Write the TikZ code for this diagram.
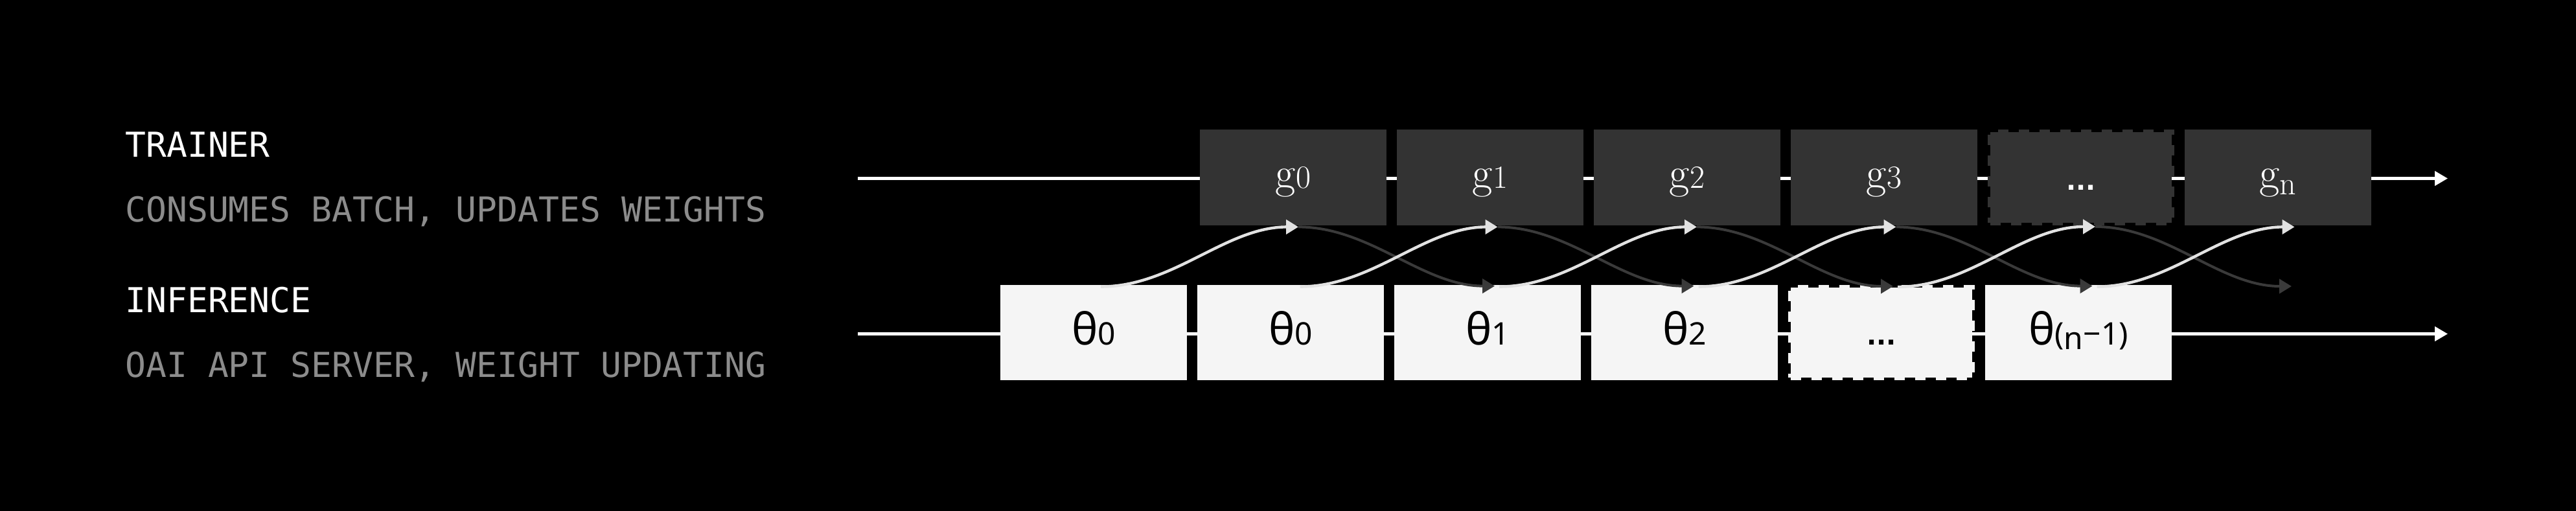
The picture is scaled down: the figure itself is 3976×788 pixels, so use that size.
\documentclass[tikz,border=0pt]{standalone}
\usepackage{fontspec}
\usetikzlibrary{arrows.meta}
\newfontfamily\lblmono{DejaVu Sans Mono}
\newfontfamily\thfont{Noto Sans}
\newfontfamily\dotsans{DejaVu Sans}
\definecolor{boxdark}{HTML}{333333}
\definecolor{boxlight}{HTML}{F5F5F5}
\definecolor{curvelight}{HTML}{E2E2E2}
\definecolor{curvedark}{HTML}{3A3A3A}
\definecolor{subgray}{HTML}{8C8C8C}
\newcommand{\glab}[1]{{\fontsize{34pt}{38pt}\selectfont g}{\fontsize{25pt}{29pt}\selectfont #1}}
\newcommand{\gnlab}{{\fontsize{34pt}{38pt}\selectfont g}\raisebox{-5pt}{\fontsize{25pt}{29pt}\selectfont n}}
\newcommand{\thlab}[1]{{\thfont\fontsize{34pt}{40pt}\selectfont θ}{\thfont\fontsize{24pt}{28pt}\selectfont #1}}
\newcommand{\thnlab}{{\thfont\fontsize{34pt}{40pt}\selectfont θ}{\thfont\fontsize{24pt}{28pt}\selectfont (\raisebox{-3.5pt}{n}−1)}}
\newcommand{\dotslab}{{\dotsans\bfseries\fontsize{20pt}{24pt}\selectfont ...}}
\tikzset{
  tbox/.style={fill=boxdark, minimum width=144pt, minimum height=74pt, inner sep=0pt,
    text=white, text height=22pt, text depth=6pt},
  bbox/.style={fill=boxlight, minimum width=144pt, minimum height=73.5pt, inner sep=0pt,
    text=black, text height=24.5pt, text depth=6pt},
  tdash/.style={tbox, draw=boxdark, line width=4pt, dash pattern=on 8pt off 8pt,
    minimum width=140pt, minimum height=70pt, text height=25pt, text depth=6pt},
  bdash/.style={bbox, draw=boxlight, line width=4pt, dash pattern=on 8pt off 8pt,
    minimum width=140pt, minimum height=69.5pt, text height=25pt, text depth=6pt},
  tline/.style={draw=white, line width=2.2pt, -{Triangle[length=10pt,width=11pt]}},
  lcurve/.style={draw=curvelight, line width=2.2pt, -{Triangle[length=9.5pt,width=11pt]}},
  dcurve/.style={draw=curvedark, line width=2pt, -{Triangle[length=9.5pt,width=11pt]}},
  lbl/.style={inner sep=0pt, anchor=base west, font=\lblmono\fontsize{26.5pt}{30pt}\selectfont},
}
\begin{document}
\begin{tikzpicture}[x=0.5pt,y=-0.5pt]
\useasboundingbox (0,0) rectangle (3976,788);
\fill[black] (-4,-4) rectangle (3980,792);

% left labels
\node[lbl, text=white] (trainer) at (193,242) {TRAINER};
\node[lbl, text=subgray] (trainersub) at (193,342) {CONSUMES BATCH, UPDATES WEIGHTS};
\node[lbl, text=white] (inference) at (193,482) {INFERENCE};
\node[lbl, text=subgray] (inferencesub) at (193,582) {OAI API SERVER, WEIGHT UPDATING};

% timelines
\coordinate (ta) at (1324,275.5);
\coordinate (tb) at (3778,275.5);
\coordinate (ia) at (1324,515.5);
\coordinate (ib) at (3778,515.5);
\draw[tline] (ta) -- (tb);
\draw[tline] (ia) -- (ib);

% trainer boxes
\node[tbox] (t0) at (1996,274) {\glab{0}};
\node[tbox] (t1) at (2300,274) {\glab{1}};
\node[tbox] (t2) at (2604,274) {\glab{2}};
\node[tbox] (t3) at (2908,274) {\glab{3}};
\node[tdash] (t4) at (3212,274) {\dotslab};
\node[tbox] (t5) at (3516,274) {\gnlab};

% inference boxes
\node[bbox] (b0) at (1688,513.5) {\thlab{0}};
\node[bbox] (b1) at (1992,513.5) {\thlab{0}};
\node[bbox] (b2) at (2296,513.5) {\thlab{1}};
\node[bbox] (b3) at (2600,513.5) {\thlab{2}};
\node[bdash] (b4) at (2904,513.5) {\dotslab};
\node[bbox] (b5) at (3208,513.5) {\thnlab};
\coordinate (b6n) at (3512,440);

% weight updates: trainer -> inference (dark)
\foreach \k/\e in {0/b2.north,1/b3.north,2/b4.north,3/b5.north,4/b6n} {
  \pgfmathsetmacro\sa{11+3.5*\k}
  \pgfmathsetmacro\sb{8+3.5*\k}
  \draw[dcurve] ([shift={(\sb,2)}]t\k.south) to[out=0,in=180,looseness=0.9] ([shift={(\sa,2)}]\e);
}
% rollouts: inference -> trainer (light)
\foreach \k in {0,...,5} {
  \pgfmathsetmacro\sa{11+3.5*\k}
  \pgfmathsetmacro\sb{8+3.5*\k}
  \draw[lcurve] ([shift={(\sa,3)}]b\k.north) to[out=0,in=180,looseness=0.9] ([shift={(\sb,2)}]t\k.south);
}
\end{tikzpicture}
\end{document}
